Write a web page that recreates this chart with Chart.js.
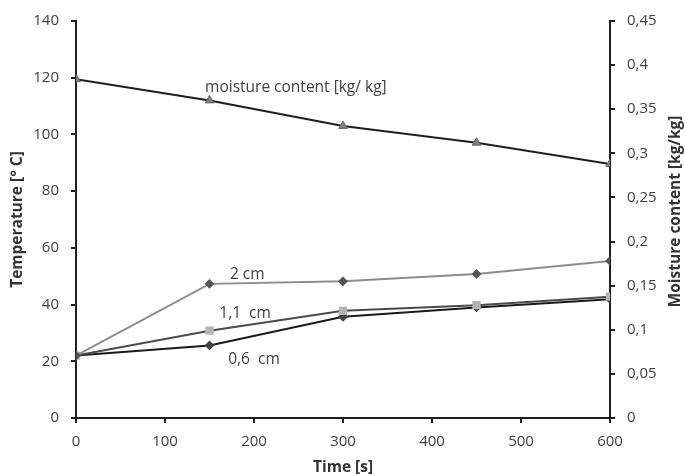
<!DOCTYPE html>
<html>
<head>
    <title>Temperature and moisture content</title>
    <script src="https://cdn.jsdelivr.net/npm/chart.js"></script>
    <style>
        html, body { margin: 0; padding: 0; background: #fff; }
        .chart-box { width: 685px; height: 475px; }
    </style>
</head>
<body>
    <div class="chart-box">
        <canvas id="chart"></canvas>
    </div>
    <script>
        // values
        const times = [0, 150, 300, 450, 600];
        const moisture = [0.384, 0.360, 0.331, 0.312, 0.288];
        const temp2cm = [22, 47.3, 48.2, 50.8, 55.4];
        const temp11cm = [22, 30.8, 37.8, 39.8, 42.8];
        const temp06cm = [22, 25.6, 35.7, 39.0, 41.9];

        const xTicks = [0, 100, 200, 300, 400, 500, 600];
        const leftTicks = [0, 20, 40, 60, 80, 100, 120, 140];
        const rightTicks = [0, 0.05, 0.1, 0.15, 0.2, 0.25, 0.3, 0.35, 0.4, 0.45];

        // in-chart labels, anchored in data units (x, left axis value)
        const seriesLabels = [
            { text: 'moisture content [kg/ kg]', x: 145, y: 116.5 },
            { text: '2 cm', x: 173, y: 50.5 },
            { text: '1,1  cm', x: 161, y: 37 },
            { text: '0,6  cm', x: 171, y: 20.5 }
        ];

        const font = "'Open Sans', sans-serif";
        const textColor = '#404040';
        const axisColor = '#1e1e1e';

        function pts(ys) {
            return times.map((t, i) => ({ x: t, y: ys[i] }));
        }

        const labelPlugin = {
            id: 'seriesLabels',
            afterDatasetsDraw(chart) {
                const ctx = chart.ctx;
                const xs = chart.scales.x;
                const ys = chart.scales.y;
                const area = chart.chartArea;
                ctx.save();
                ctx.font = '15.5px ' + font;
                ctx.fillStyle = textColor;
                ctx.textBaseline = 'middle';
                ctx.textAlign = 'left';
                seriesLabels.forEach(l => {
                    ctx.fillText(l.text, xs.getPixelForValue(l.x), ys.getPixelForValue(l.y));
                });
                // right axis title reads bottom-to-top like the left one
                ctx.font = 'bold 15.5px ' + font;
                ctx.fillStyle = '#333';
                ctx.textAlign = 'center';
                ctx.translate(chart.width - 9, (area.top + area.bottom) / 2 - 8);
                ctx.rotate(-Math.PI / 2);
                ctx.fillText('Moisture content [kg/kg]', 0, 0);
                ctx.restore();
            }
        };

        const commaFmt = v => String(v).replace('.', ',');

        new Chart(document.getElementById('chart'), {
            type: 'line',
            data: {
                datasets: [
                    {
                        label: 'moisture content',
                        data: pts(moisture),
                        yAxisID: 'y1',
                        borderColor: '#1e1e1e',
                        borderWidth: 2,
                        pointStyle: 'triangle',
                        pointRadius: 5,
                        pointBackgroundColor: '#7f7f7f',
                        pointBorderColor: '#6a6a6a',
                        pointBorderWidth: 1
                    },
                    {
                        label: '2 cm',
                        data: pts(temp2cm),
                        yAxisID: 'y',
                        borderColor: '#8c8c8c',
                        borderWidth: 2,
                        pointStyle: 'rectRot',
                        pointRadius: 3.5,
                        pointBackgroundColor: '#555',
                        pointBorderColor: '#555'
                    },
                    {
                        label: '1,1 cm',
                        data: pts(temp11cm),
                        yAxisID: 'y',
                        borderColor: '#4a4a4a',
                        borderWidth: 2,
                        pointStyle: 'rect',
                        pointRadius: 4.5,
                        pointBackgroundColor: '#b4b4b4',
                        pointBorderColor: '#b4b4b4'
                    },
                    {
                        label: '0,6 cm',
                        data: pts(temp06cm),
                        yAxisID: 'y',
                        borderColor: '#1a1a1a',
                        borderWidth: 2,
                        pointStyle: 'rectRot',
                        pointRadius: 3.5,
                        pointBackgroundColor: '#444',
                        pointBorderColor: '#444'
                    }
                ]
            },
            options: {
                responsive: true,
                maintainAspectRatio: false,
                animation: false,
                layout: { padding: { top: 21 } },
                plugins: {
                    legend: { display: false },
                    tooltip: { enabled: false }
                },
                scales: {
                    x: {
                        type: 'linear',
                        min: 0,
                        max: 600,
                        afterBuildTicks: s => { s.ticks = xTicks.map(v => ({ value: v })); },
                        afterFit: s => { s.height = 57; },
                        border: { color: axisColor, width: 2 },
                        grid: { drawOnChartArea: false, color: axisColor, lineWidth: 2, tickLength: 5 },
                        ticks: { color: textColor, font: { family: font, size: 15 }, padding: 10, maxRotation: 0 },
                        title: { display: true, text: 'Time [s]', color: '#333', font: { family: font, size: 15.5, weight: 'bold' }, padding: { top: 0, bottom: -2 } }
                    },
                    y: {
                        position: 'left',
                        min: 0,
                        max: 140,
                        afterBuildTicks: s => { s.ticks = leftTicks.map(v => ({ value: v })); },
                        afterFit: s => { s.width = 76; },
                        border: { color: axisColor, width: 2 },
                        grid: { drawOnChartArea: false, color: axisColor, lineWidth: 2, tickLength: 5 },
                        ticks: { color: textColor, font: { family: font, size: 15 }, padding: 12 },
                        title: { display: true, text: 'Temperature [° C]', color: '#333', font: { family: font, size: 15.5, weight: 'bold' }, padding: { top: 8, bottom: 0 } }
                    },
                    y1: {
                        position: 'right',
                        min: 0,
                        max: 0.45,
                        afterBuildTicks: s => { s.ticks = rightTicks.map(v => ({ value: v })); },
                        afterFit: s => { s.width = 75; },
                        border: { color: axisColor, width: 2 },
                        grid: { drawOnChartArea: false, color: axisColor, lineWidth: 2, tickLength: 5 },
                        ticks: { color: textColor, font: { family: font, size: 15 }, padding: 12, callback: v => commaFmt(Math.round(v * 100) / 100) },
                        title: { display: false }
                    }
                }
            },
            plugins: [labelPlugin]
        });
    </script>
</body>
</html>
